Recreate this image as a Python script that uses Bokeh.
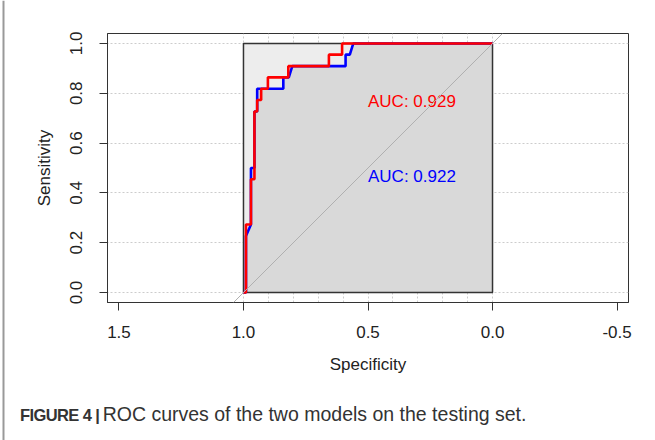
from bokeh.plotting import figure
from bokeh.layouts import row, column
from bokeh.models import Range1d, FixedTicker, PrintfTickFormatter, Slope, Div
from bokeh.core.properties import value
from bokeh.embed import file_html
from bokeh.resources import INLINE

# ---- data ----
blue_spec = [1.0, 0.99, 0.99, 0.97, 0.97, 0.956, 0.956, 0.945, 0.945, 0.84, 0.84,
             0.818, 0.804, 0.59, 0.59, 0.573, 0.559, 0.0]
blue_sens = [0.0, 0.0, 0.227, 0.273, 0.5, 0.5, 0.727, 0.727, 0.818, 0.818, 0.864,
             0.864, 0.909, 0.909, 0.955, 0.955, 1.0, 1.0]
red_spec = [1.0, 0.99, 0.99, 0.97, 0.97, 0.956, 0.956, 0.945, 0.945, 0.929, 0.929,
            0.902, 0.902, 0.82, 0.82, 0.657, 0.657, 0.604, 0.604, 0.0]
red_sens = [0.0, 0.0, 0.273, 0.273, 0.455, 0.455, 0.727, 0.727, 0.773, 0.773, 0.818,
            0.818, 0.864, 0.864, 0.909, 0.909, 0.955, 0.955, 1.0, 1.0]
auc_labels = ["AUC: 0.929", "AUC: 0.922"]
auc_colors = ["#FF0000", "#0000FF"]
x_ticks = [1.5, 1.0, 0.5, 0.0, -0.5]
y_ticks = [0.0, 0.2, 0.4, 0.6, 0.8, 1.0]
x_grid = [0.0, 0.1, 0.2, 0.3, 0.4, 0.5, 0.6, 0.7, 0.8, 0.9, 1.0]
caption_bold = "FIGURE 4 |"
caption_text = "ROC curves of the two models on the testing set."

FONT = "Liberation Sans"
EDGE_W = 5                       # strip holding the page-edge line
W, H = 655 - EDGE_W, 390         # main chart
CAP_H = 50                       # caption strip
BL, BR, BT, BB = 107 - EDGE_W, 27, 33, 88

# ---- main ROC chart ----
p = figure(width=W, height=H, output_backend="svg", toolbar_location=None,
           x_range=Range1d(1.546, -0.546), y_range=Range1d(-0.04, 1.04),
           min_border_left=BL, min_border_right=BR, min_border_top=BT,
           min_border_bottom=BB)
p.background_fill_color = "white"
p.border_fill_color = "white"
p.outline_line_color = "#333333"
p.outline_line_width = 1

for ax in (p.xaxis[0], p.yaxis[0]):
    ax.axis_line_color = "#333333"
    ax.major_tick_line_color = "#333333"
    ax.major_tick_out = 8
    ax.major_tick_in = 0
    ax.minor_tick_line_color = None
    ax.formatter = PrintfTickFormatter(format="%.1f")
    ax.major_label_text_font = FONT
    ax.major_label_text_font_size = "17px"
    ax.major_label_text_color = "#222222"
    ax.axis_label_text_font = FONT
    ax.axis_label_text_font_size = "17px"
    ax.axis_label_text_font_style = "normal"
    ax.axis_label_text_color = "#222222"
p.xaxis.major_label_standoff = 15
p.xaxis.axis_label_standoff = 14
p.yaxis.major_label_standoff = 17
p.yaxis.axis_label_standoff = 14
p.xaxis.ticker = FixedTicker(ticks=x_ticks)
p.yaxis.ticker = FixedTicker(ticks=y_ticks)
p.xaxis.axis_label = "Specificity"
p.yaxis.axis_label = "Sensitivity"
p.yaxis.major_label_orientation = "vertical"

p.xgrid.ticker = FixedTicker(ticks=x_grid)
p.ygrid.ticker = FixedTicker(ticks=y_ticks)
for g in (p.xgrid[0], p.ygrid[0]):
    g.grid_line_color = "#cccccc"
    g.grid_line_dash = "2 2"
    g.grid_line_width = 1

# max AUC polygon (light) and AUC polygon (dark, under blue curve)
p.quad(left=[max(blue_spec)], right=[min(blue_spec)], bottom=[min(blue_sens)],
       top=[max(blue_sens)], fill_color="#EDEDED", line_color=None)
p.varea(x=blue_spec, y1=[0.0] * len(blue_spec), y2=blue_sens, fill_color="#D9D9D9")
p.quad(left=[max(blue_spec)], right=[min(blue_spec)], bottom=[min(blue_sens)],
       top=[max(blue_sens)], fill_color=None, line_color="#333333", line_width=1.5)

p.add_layout(Slope(gradient=-1, y_intercept=1, line_color="#b0b0b0", line_width=1))

p.line(blue_spec, blue_sens, line_color="#0000FF", line_width=2.6)
p.line(red_spec, red_sens, line_color="#FF0000", line_width=2.6)

p.text(x=[0.5, 0.5], y=[0.765, 0.465], text=auc_labels, text_color=auc_colors,
       text_font=value(FONT), text_font_size="17px", text_align="left",
       text_baseline="middle")

# ---- caption ----
cap_html = (
    '<div style="padding:12px 0 0 %dpx; font-family:\'%s\'; color:#333333; '
    'white-space:nowrap; line-height:24px;">'
    '<span style="font-weight:bold; font-size:16.5px; letter-spacing:-0.6px;">%s</span> '
    '<span style="font-size:19.5px;">%s</span></div>'
    % (20 - EDGE_W, FONT, caption_bold, caption_text)
)
cap = Div(text=cap_html, width=W, height=CAP_H, margin=0)

# ---- page edge line strip ----
edge = figure(width=EDGE_W, height=H + CAP_H, output_backend="svg",
              toolbar_location=None, x_range=Range1d(0, EDGE_W),
              y_range=Range1d(0, H + CAP_H), min_border=0)
edge.axis.visible = False
edge.grid.visible = False
edge.outline_line_color = None
edge.vspan(x=[3], line_color="#999999", line_width=2)

layout = row(edge, column(p, cap, spacing=0), spacing=0)
open("out.html", "w").write(file_html(layout, INLINE))
